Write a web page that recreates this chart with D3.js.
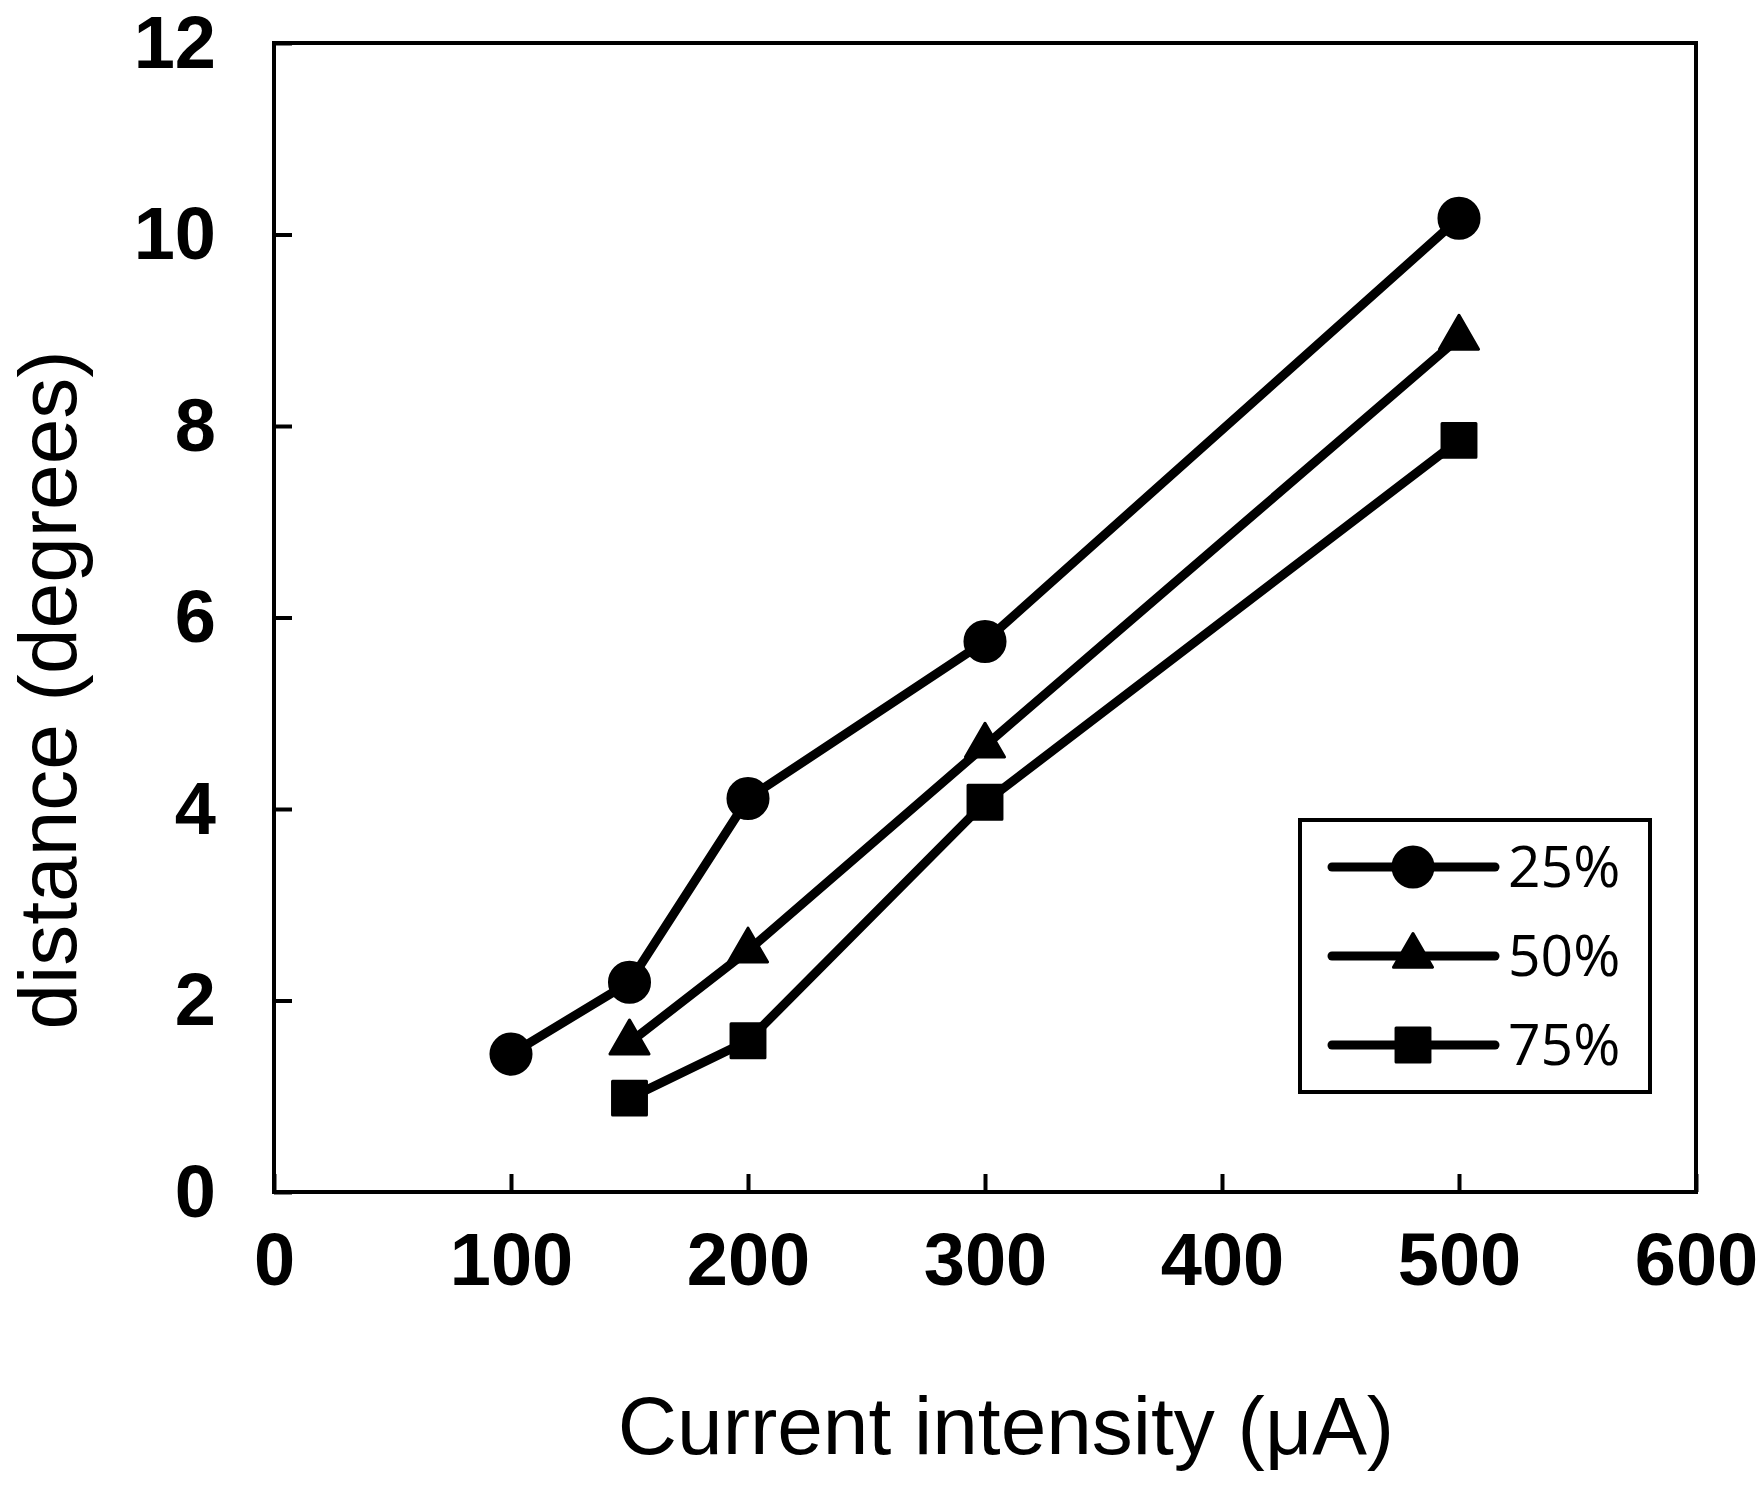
<!DOCTYPE html>
<html>
<head>
<meta charset="utf-8">
<script src="https://cdn.jsdelivr.net/npm/d3@7"></script>
<style>
  body { margin: 0; background: #fff; }
  svg { display: block; }
</style>
</head>
<body>
<div id="chart"></div>
<script>
// Data
const seriesNames = ["25%", "50%", "75%"];
const current25 = [100, 150, 200, 300, 500];
const distance25 = [1.44, 2.19, 4.11, 5.75, 10.17];
const current50 = [150, 200, 300, 500];
const distance50 = [1.56, 2.52, 4.66, 8.92];
const current75 = [150, 200, 300, 500];
const distance75 = [0.98, 1.58, 4.07, 7.85];
const xTicks = [0, 100, 200, 300, 400, 500, 600];
const yTicks = [0, 2, 4, 6, 8, 10, 12];

// Page and plot box
const W = 1762, H = 1491;
const box = { left: 274, right: 1696, top: 43, bottom: 1192 };

const svg = d3.select("#chart")
  .append("svg")
  .attr("width", W)
  .attr("height", H);

// Scales
const x = d3.scaleLinear().domain([0, 600]).range([box.left, box.right]);
const y = d3.scaleLinear().domain([0, 12]).range([box.bottom, box.top]);

// Bottom axis (ticks point inward)
const xAxis = svg.append("g")
  .attr("transform", `translate(0,${box.bottom})`)
  .call(d3.axisBottom(x).tickValues(xTicks).tickSizeInner(-18).tickSizeOuter(0).tickPadding(40));

// Left axis
const yAxis = svg.append("g")
  .attr("transform", `translate(${box.left},0)`)
  .call(d3.axisLeft(y).tickValues(yTicks).tickSizeInner(-18).tickSizeOuter(0).tickPadding(58));

[xAxis, yAxis].forEach(g => {
  g.select(".domain").remove();
  g.selectAll(".tick line").attr("stroke", "#000").attr("stroke-width", 4);
  g.selectAll(".tick text")
    .attr("fill", "#000")
    .style("font-family", "'Liberation Sans', Arial, sans-serif")
    .style("font-weight", "bold")
    .style("font-size", "74px");
});
yAxis.selectAll(".tick text").attr("dy", "0.33em");

// Plot frame
svg.append("rect")
  .attr("x", box.left)
  .attr("y", box.top)
  .attr("width", box.right - box.left)
  .attr("height", box.bottom - box.top)
  .attr("fill", "none")
  .attr("stroke", "#000")
  .attr("stroke-width", 4);

// Series
const series = [
  { name: seriesNames[0], xs: current25, ys: distance25, symbol: d3.symbolCircle, size: 1260 },
  { name: seriesNames[1], xs: current50, ys: distance50, symbol: d3.symbolTriangle, size: 660 },
  { name: seriesNames[2], xs: current75, ys: distance75, symbol: d3.symbolSquare, size: 1150 }
];

const line = d3.line()
  .x(d => x(d[0]))
  .y(d => y(d[1]));

series.forEach(s => {
  const pts = s.xs.map((v, i) => [v, s.ys[i]]);

  svg.append("path")
    .datum(pts)
    .attr("fill", "none")
    .attr("stroke", "#000")
    .attr("stroke-width", 9)
    .attr("stroke-linejoin", "round")
    .attr("d", line);

  svg.selectAll(null)
    .data(pts)
    .enter()
    .append("path")
    .attr("d", d3.symbol().type(s.symbol).size(s.size))
    .attr("transform", d => `translate(${x(d[0])},${y(d[1])})`)
    .attr("fill", "#000")
    .attr("stroke", "#000")
    .attr("stroke-width", 3)
    .attr("stroke-linejoin", "round");
});

// Legend
const legend = svg.append("g");
legend.append("rect")
  .attr("x", 1300)
  .attr("y", 820)
  .attr("width", 350)
  .attr("height", 272)
  .attr("fill", "#fff")
  .attr("stroke", "#000")
  .attr("stroke-width", 4);

series.forEach((s, i) => {
  const ly = 867 + i * 89;
  legend.append("line")
    .attr("x1", 1332)
    .attr("x2", 1495)
    .attr("y1", ly)
    .attr("y2", ly)
    .attr("stroke", "#000")
    .attr("stroke-width", 9)
    .attr("stroke-linecap", "round");
  legend.append("path")
    .attr("d", d3.symbol().type(s.symbol).size(s.size))
    .attr("transform", `translate(1413,${ly})`)
    .attr("fill", "#000")
    .attr("stroke", "#000")
    .attr("stroke-width", 3)
    .attr("stroke-linejoin", "round");
  legend.append("text")
    .attr("x", 1508)
    .attr("y", ly + 20)
    .text(s.name)
    .style("font-family", "'Open Sans', 'Noto Sans', sans-serif")
    .style("font-size", "57px")
    .attr("fill", "#000");
});

// Axis titles
svg.append("text")
  .attr("x", 1006)
  .attr("y", 1454)
  .attr("text-anchor", "middle")
  .style("font-family", "'Liberation Sans', Arial, sans-serif")
  .style("font-size", "82px")
  .text("Current intensity (\u03BCA)");

svg.append("text")
  .attr("transform", "translate(76,690) rotate(-90)")
  .attr("text-anchor", "middle")
  .style("font-family", "'Liberation Sans', Arial, sans-serif")
  .style("font-size", "82px")
  .text("distance (degrees)");
</script>
</body>
</html>
